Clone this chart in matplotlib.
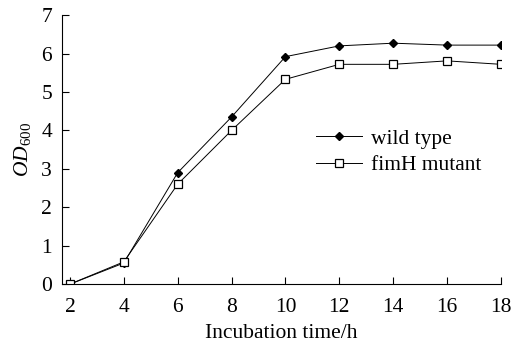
import matplotlib
matplotlib.use("Agg")
import matplotlib.pyplot as plt

hours = [2, 4, 6, 8, 10, 12, 14, 16, 18]
wild_type = [0.0, 0.55, 2.9, 4.35, 5.92, 6.2, 6.27, 6.22, 6.22]
fimh_mutant = [0.0, 0.58, 2.6, 4.0, 5.33, 5.72, 5.72, 5.81, 5.72]

plt.rcParams['font.family'] = ['Liberation Serif', 'DejaVu Serif']
plt.rcParams['mathtext.fontset'] = 'custom'
plt.rcParams['mathtext.rm'] = 'Liberation Serif'
plt.rcParams['mathtext.it'] = 'Liberation Serif:italic'
plt.rcParams['font.size'] = 15.5

fig = plt.figure(figsize=(5.24, 3.44), dpi=100)
ax = fig.add_axes([0.118, 0.174, 0.838, 0.782])

ax.plot(hours, wild_type, color='black', lw=0.7, marker='D', ms=4.5,
        mfc='black', mec='black', label='wild type')
ax.plot(hours, fimh_mutant, color='black', lw=0.7, marker='s', ms=6,
        mfc='white', mec='black', mew=0.9, label='fimH mutant')

ax.set_xlim(1.7, 18)
ax.set_ylim(0, 7)
ax.set_xticks(hours)
ax.set_yticks(range(0, 8))
ax.tick_params(direction='in', length=5, width=0.8)
ax.tick_params(axis='x', pad=10)
ax.tick_params(axis='y', pad=7)
ax.spines['top'].set_visible(False)
ax.spines['right'].set_visible(False)
for s in ['left', 'bottom']:
    ax.spines[s].set_linewidth(0.8)

ax.set_xlabel('Incubation time/h', labelpad=5)
ax.set_ylabel(r'$OD_{\mathrm{600}}$', labelpad=6)

ax.legend(loc='upper left', bbox_to_anchor=(0.56, 0.61), frameon=False,
          handlelength=2.1, handletextpad=0.45, labelspacing=0.3,
          borderaxespad=0)

fig.savefig('out.png', dpi=100)
